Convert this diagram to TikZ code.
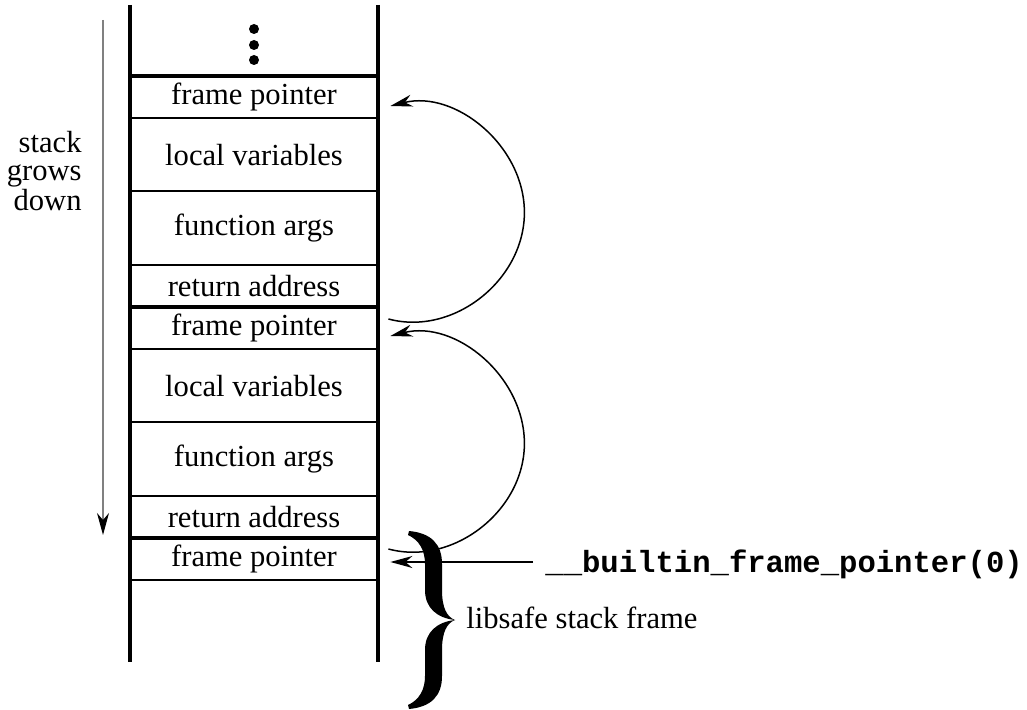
\documentclass[tikz,border=0pt]{standalone}
\usepackage{fontspec}
\setmainfont{Liberation Serif}
\setmonofont{Liberation Mono}
\usetikzlibrary{positioning,arrows.meta,calc}

\begin{document}
\begin{tikzpicture}[x=0.5pt,y=0.5pt,>={Stealth[length=11pt,width=6pt,inset=3.5pt]},
    cell/.style={minimum width=124pt,inner sep=0pt,font=\fontsize{15.3}{18}\selectfont},
    small cell/.style={cell,minimum height=20.75pt},
    big cell/.style={cell,minimum height=36.2pt},
    wall/.style={line width=1.7pt},
    thick sep/.style={line width=2pt},
    thin sep/.style={line width=1pt},
    link/.style={->,line width=0.75pt}]
    \useasboundingbox (0,0) rectangle (1027,-710);

    % the stack cells
    \node[small cell] (fp1) at (254,-97) {frame pointer};
    \node[big cell] (lv1) [below=0pt of fp1] {local variables};
    \node[big cell] (fa1) [below=0pt of lv1] {function args};
    \node[small cell] (ra1) [below=0pt of fa1] {return address};
    \node[small cell] (fp2) [below=0pt of ra1] {frame pointer};
    \node[big cell] (lv2) [below=0pt of fp2] {local variables};
    \node[big cell] (fa2) [below=0pt of lv2] {function args};
    \node[small cell] (ra2) [below=0pt of fa2] {return address};
    \node[small cell] (fp3) [below=0pt of ra2] {frame pointer};

    \draw[wall] (130,-5) -- (130,-662);
    \draw[wall] (378,-5) -- (378,-662);
    \draw[thick sep] (fp1.north west) -- (fp1.north east);
    \foreach \c in {fp1,lv1,fa1,fp2,lv2,fa2,fp3}
        \draw[thin sep] (\c.south west) -- (\c.south east);
    \foreach \c in {ra1,ra2}
        \draw[thick sep] (\c.south west) -- (\c.south east);
    \foreach \y in {29,45,60}
        \fill (254,-\y) circle (2.5pt);

    % growth direction
    \node[align=right,anchor=east,inner sep=0pt,font=\fontsize{15.3}{13.8}\selectfont] (grows) at (82,-171) {stack\\grows\\down};
    \coordinate (gtop) at (103,-20);
    \coordinate (gbot) at (103,-535);
    \draw[gray,line width=0.7pt,-{Stealth[length=11pt,width=6pt,inset=3.5pt,black]}] (gtop) -- (gbot);

    % libsafe frame: the big brace
    \begin{scope}[shift={(455,-620)}]
        \foreach \s in {1,-1}
            \fill[yscale=\s] (0,0) .. controls (-8,3) and (-13,12) .. (-13,30) -- (-13,56)
                .. controls (-13,76) and (-24,87) .. (-46,89) -- (-47,85)
                .. controls (-36,80) and (-30,70) .. (-30,56) -- (-30,30)
                .. controls (-30,12) and (-18,2) .. (0,0) -- cycle;
    \end{scope}
    \node[inner sep=0pt,anchor=base west,font=\fontsize{15.3}{18}\selectfont] (libsafe) at (466,-628) {libsafe stack frame};
    \node[inner sep=0pt,anchor=base west,font=\fontsize{15.3}{18}\selectfont\ttfamily\bfseries] (bfp) at (545,-572) {\_\_builtin\_frame\_pointer(0)};
    \coordinate (bfparrow) at ([xshift=-6pt]bfp.base west |- 0,-562);

    % saved frame pointer chain
    \coordinate (loop1) at ($(fp1.east)!0.5!(fp2.east)+(73pt,0)$);
    \coordinate (loop2) at ($(fp2.east)!0.5!(fp3.east)+(73pt,0)$);
    \draw[link] ([xshift=5pt,yshift=4.5pt]fp2.east) to[out=-15,in=-90] (loop1)
        to[out=90,in=14] ([xshift=6pt,yshift=-4.5pt]fp1.east);
    \draw[link] ([xshift=5pt,yshift=5pt]fp3.east) to[out=-15,in=-90] (loop2)
        to[out=90,in=14] ([xshift=6pt,yshift=-4pt]fp2.east);
    \path[link] (bfparrow) edge[shorten >=6pt] (fp3.east |- bfparrow);
\end{tikzpicture}
\end{document}
